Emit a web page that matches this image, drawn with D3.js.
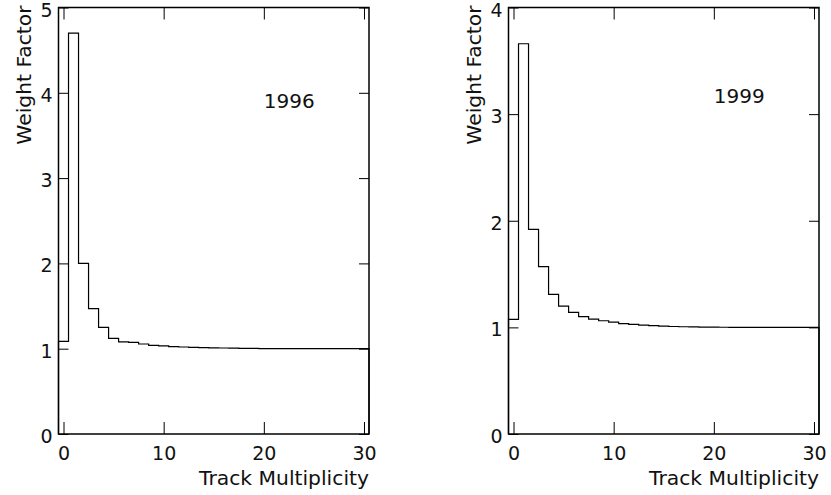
<!DOCTYPE html>
<html>
<head>
<meta charset="utf-8">
<script src="https://cdn.jsdelivr.net/npm/d3@7"></script>
<style>
  html, body { margin: 0; padding: 0; background: #fff; }
  svg { display: block; }
  text { font-family: "DejaVu Sans", sans-serif; fill: #111; }
</style>
</head>
<body>
<svg id="chart" width="831" height="495"></svg>
<script>
// ---- data ----
const multiplicity = [0,1,2,3,4,5,6,7,8,9,10,11,12,13,14,15,16,17,18,19,20,21,22,23,24,25,26,27,28,29,30];
const weights1996 = [1.085, 4.70, 2.00, 1.47, 1.25, 1.12, 1.08, 1.075, 1.055, 1.04, 1.032, 1.025, 1.02, 1.015, 1.012, 1.01, 1.008, 1.006, 1.004, 1.003, 1.002, 1.001, 1.0, 1.0, 1.0, 1.0, 1.0, 1.0, 1.0, 1.0, 1.0];
const weights1999 = [1.075, 3.66, 1.92, 1.57, 1.31, 1.20, 1.14, 1.10, 1.078, 1.062, 1.05, 1.035, 1.028, 1.022, 1.016, 1.012, 1.008, 1.006, 1.004, 1.003, 1.002, 1.001, 1.0, 1.0, 1.0, 1.0, 1.0, 1.0, 1.0, 1.0, 1.0];
const xTicks = [0, 10, 20, 30];
const yTicks1996 = [0, 1, 2, 3, 4, 5];
const yTicks1999 = [0, 1, 2, 3, 4];
const xLabel = "Track Multiplicity";
const yLabel = "Weight Factor";

const svg = d3.select("#chart");

function panel(cfg) {
  const { left, right, top, bottom, yMax, yTicks, values, year, yearPos } = cfg;
  const x = d3.scaleLinear().domain([-0.5, 30.5]).range([left, right]);
  const y = d3.scaleLinear().domain([0, yMax]).range([bottom, top]);
  const g = svg.append("g");

  // histogram step outline
  const pts = [[x(-0.5), y(0)]];
  multiplicity.forEach((m, i) => {
    pts.push([x(m - 0.5), y(values[i])]);
    pts.push([x(m + 0.5), y(values[i])]);
  });
  pts.push([x(30.5), y(0)]);
  g.append("path")
    .attr("d", d3.line()(pts))
    .attr("fill", "none")
    .attr("stroke", "#000")
    .attr("stroke-width", 1.2);

  // axes (ticks pointing inward)
  const fontSize = 19;
  const ax = g.append("g").attr("transform", `translate(0,${bottom})`)
    .call(d3.axisBottom(x).tickValues(xTicks).tickSize(-12).tickPadding(13).tickFormat(d3.format("d")));
  const axTop = g.append("g").attr("transform", `translate(0,${top})`)
    .call(d3.axisTop(x).tickValues(xTicks).tickSize(-12).tickFormat(""));
  const ay = g.append("g").attr("transform", `translate(${left},0)`)
    .call(d3.axisLeft(y).tickValues(yTicks).tickSize(-10).tickPadding(6).tickFormat(d3.format("d")));
  const ayR = g.append("g").attr("transform", `translate(${right},0)`)
    .call(d3.axisRight(y).tickValues(yTicks).tickSize(-10).tickFormat(""));
  [ax, axTop, ay, ayR].forEach(a => {
    a.select(".domain").remove();
    a.selectAll(".tick line").attr("stroke", "#000").attr("stroke-width", 1);
    a.selectAll("text").attr("font-family", "DejaVu Sans").attr("font-size", fontSize).attr("fill", "#111");
  });
  ay.selectAll("text").attr("dy", "0.45em");

  // frame
  g.append("rect")
    .attr("x", left).attr("y", top)
    .attr("width", right - left).attr("height", bottom - top)
    .attr("fill", "none").attr("stroke", "#000").attr("stroke-width", 1.5);

  // axis titles
  g.append("text")
    .attr("x", right).attr("y", bottom + 51)
    .attr("text-anchor", "end")
    .attr("font-size", 20.3)
    .text(xLabel);
  g.append("text")
    .attr("transform", `translate(${left - 28},${top - 2}) rotate(-90)`)
    .attr("text-anchor", "end")
    .attr("font-size", 20.3)
    .text(yLabel);

  // year label
  g.append("text")
    .attr("x", x(yearPos[0])).attr("y", y(yearPos[1]))
    .attr("font-size", 20)
    .text(year);
}

panel({ left: 58.5, right: 369, top: 7.5, bottom: 434, yMax: 5, yTicks: yTicks1996,
        values: weights1996, year: "1996", yearPos: [20, 3.82] });
panel({ left: 508.5, right: 819, top: 7.5, bottom: 434, yMax: 4, yTicks: yTicks1999,
        values: weights1999, year: "1999", yearPos: [20, 3.1] });
</script>
</body>
</html>
